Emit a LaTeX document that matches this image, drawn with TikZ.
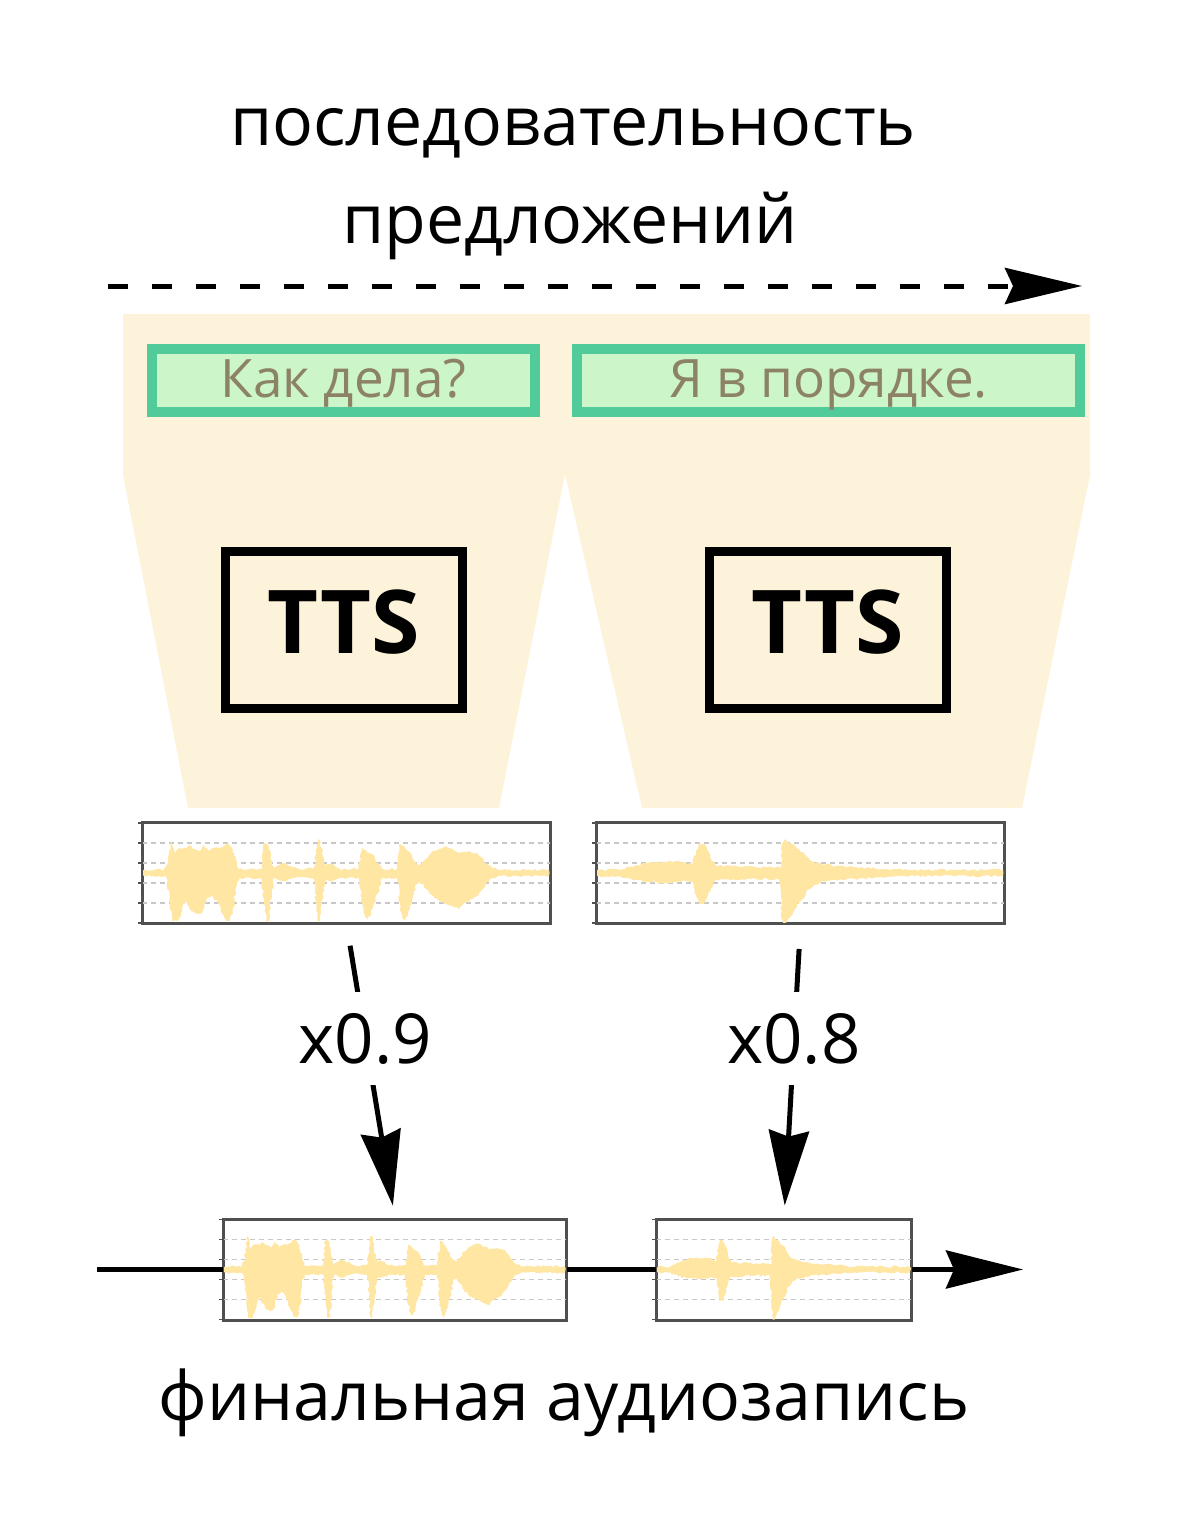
\documentclass[tikz,border=0pt]{standalone}
\usepackage{fontspec}
\setmainfont{Open Sans}
\usetikzlibrary{arrows.meta,calc,decorations.pathmorphing}
\definecolor{cream}{RGB}{252,243,218}
\definecolor{gborder}{RGB}{82,203,155}
\definecolor{gfill}{RGB}{205,245,202}
\definecolor{olive}{RGB}{140,130,100}
\definecolor{wavecol}{RGB}{255,230,163}
\definecolor{gridcol}{RGB}{200,200,200}
\definecolor{panelcol}{RGB}{80,80,80}
\newcommand{\wavone}{%
\fill[wavecol,decorate,decoration={random steps,segment length=2.5pt,amplitude=1.2pt}]
(0,-3) -- (22,-3) -- (25,-8) -- (29,-33) -- (33,-20) -- (37,-25) -- (42,-25) -- (47,-28) -- (52,-24) -- (57,-22) -- (62,-28) -- (67,-22) -- (72,-25) -- (77,-25) -- (82,-27) -- (85,-30) -- (89,-26) -- (92,-20) -- (95,-8) -- (97,-4) -- (119,-4) -- (122,-30) -- (125,-29) -- (127,-26) -- (130,-8) -- (132,-4) -- (137,-8) -- (140,-10) -- (144,-9) -- (147,-7) -- (152,-6) -- (157,-4) -- (172,-5) -- (174,-20) -- (176,-34) -- (178,-33) -- (180,-20) -- (183,-8) -- (187,-9) -- (192,-8) -- (197,-4) -- (217,-4) -- (220,-25) -- (224,-23) -- (227,-20) -- (232,-18) -- (236,-10) -- (240,-4) -- (255,-4) -- (258,-29) -- (262,-27) -- (266,-22) -- (270,-16) -- (274,-10) -- (278,-8) -- (282,-12) -- (287,-18) -- (292,-22) -- (297,-24) -- (302,-26) -- (307,-25) -- (312,-23) -- (317,-20) -- (322,-21) -- (327,-22) -- (333,-20) -- (339,-16) -- (345,-9) -- (350,-5) -- (360,-3) -- (407,-3)
-- (407,3) -- (360,3) -- (350,5) -- (345,9) -- (339,18) -- (333,24) -- (327,28) -- (322,30) -- (317,36) -- (312,34) -- (307,32) -- (302,30) -- (297,28) -- (292,25) -- (287,20) -- (282,14) -- (278,9) -- (274,12) -- (270,28) -- (266,40) -- (263,48) -- (260,45) -- (258,30) -- (255,5) -- (240,5) -- (236,20) -- (232,30) -- (229,40) -- (226,46) -- (223,44) -- (220,30) -- (217,5) -- (197,5) -- (192,7) -- (187,8) -- (183,8) -- (180,30) -- (178,48) -- (176,48) -- (174,30) -- (172,6) -- (157,4) -- (152,5) -- (147,6) -- (144,8) -- (140,8) -- (137,7) -- (132,5) -- (130,20) -- (127,48) -- (124,48) -- (122,30) -- (119,5) -- (97,5) -- (94,15) -- (91,40) -- (88,48) -- (84,47) -- (80,40) -- (76,30) -- (70,22) -- (65,25) -- (60,40) -- (55,41) -- (50,38) -- (44,28) -- (40,35) -- (36,48) -- (30,48) -- (28,30) -- (25,6) -- (22,3) -- (0,3) -- cycle;}
\newcommand{\wavtwo}{%
\fill[wavecol,decorate,decoration={random steps,segment length=2.5pt,amplitude=1.2pt}]
(0,-3) -- (23,-3) -- (30,-5) -- (40,-8) -- (50,-10) -- (60,-11) -- (70,-11) -- (80,-12) -- (90,-10) -- (97,-9) -- (100,-22) -- (103,-30) -- (107,-29) -- (111,-24) -- (115,-14) -- (120,-7) -- (140,-7) -- (160,-6) -- (180,-6) -- (185,-5) -- (186,-30) -- (189,-34) -- (193,-30) -- (198,-28) -- (203,-24) -- (210,-17) -- (218,-11) -- (225,-9) -- (240,-7) -- (260,-6) -- (290,-4) -- (320,-3) -- (407,-3)
-- (407,3) -- (320,3) -- (290,4) -- (260,6) -- (240,7) -- (225,9) -- (218,12) -- (210,20) -- (203,30) -- (198,38) -- (193,45) -- (190,50) -- (187,50) -- (185,30) -- (183,6) -- (160,6) -- (140,7) -- (120,7) -- (115,15) -- (111,25) -- (107,31) -- (103,31) -- (100,22) -- (97,9) -- (90,8) -- (80,9) -- (70,10) -- (60,9) -- (50,9) -- (40,7) -- (30,5) -- (23,3) -- (0,3) -- cycle;}
\newcommand{\panelgrid}[1]{%
  \foreach \g in {-30,-10,10,30}
    \draw[gridline] ($(#1.west)+(0,\g)$) -- ($(#1.east)+(0,\g)$);
  \foreach \g in {-50,-30,-10,10,30,50}
    \draw[tickmark] ($(#1.west)+(-4,\g)$) -- ($(#1.west)+(0,\g)$);
}
\begin{document}
\begin{tikzpicture}[x=1pt,y=-1pt,
  bigtext/.style={font=\fontsize{68}{80}\selectfont, inner sep=0pt},
  sentbox/.style={draw=gborder, fill=gfill, line width=10pt, text=olive,
    font=\fontsize{53}{62}\selectfont, text height=45pt, text depth=12pt,
    inner sep=0pt, minimum height=63pt},
  ttsbox/.style={draw=black, line width=9pt, font=\fontsize{88}{100}\selectfont\bfseries,
    text height=63pt, text depth=17pt, inner sep=0pt,
    minimum width=237pt, minimum height=157pt},
  wavepanel/.style={draw=panelcol, line width=2pt, minimum height=100pt, inner sep=0pt},
  gridline/.style={gridcol, line width=1.2pt, dash pattern=on 5pt off 4pt},
  tickmark/.style={panelcol, line width=1.5pt},
  flow/.style={line width=5pt, -{Stealth[length=77pt,width=38pt,inset=8pt]}},
  scalearrow/.style={line width=5pt, -{Stealth[length=75pt,width=40pt,inset=6pt]}},
  scalelabel/.style={fill=white, font=\fontsize{69}{80}\selectfont, inner xsep=2pt, inner ysep=21pt}
]
\useasboundingbox (0,0) rectangle (1200,1539);
\fill[white] (0,0) rectangle (1200,1539);

% title
\node[bigtext, anchor=base] (t1) at (573,145) {последовательность};
\node[bigtext, anchor=base] (t2) at (570,243) {предложений};

% dashed sequence arrow
\coordinate (ds) at (108,286);
\coordinate (de) at (1082,286);
\draw[line width=5pt, dash pattern=on 20pt off 24pt, -{Stealth[length=77pt,width=36pt,inset=8pt]}] (ds) -- (de);

% cream funnels
\fill[cream] (123,314) -- (1090,314) -- (1090,475) -- (1022,808) -- (642,808) -- (565,474)
  -- (499,808) -- (188,808) -- (123,475) -- cycle;

% sentences
\node[sentbox, minimum width=383pt] (s1) at (343.5,380.5) {Как дела?};
\node[sentbox, minimum width=503pt] (s2) at (828.5,380.5) {Я в порядке.};

% TTS boxes
\node[ttsbox] (tts1) at (344,630) {TTS};
\node[ttsbox] (tts2) at (827.5,630) {TTS};

% waveform panels (top)
\node[wavepanel, minimum width=407pt] (w1) at (346.5,873) {};
\node[wavepanel, minimum width=407pt] (w2) at (800.5,873) {};
% waveform panels (bottom)
\node[wavepanel, minimum width=342pt] (wa) at (395,1269.5) {};
\node[wavepanel, minimum width=254pt] (wb) at (784,1269.5) {};

\panelgrid{w1}
\panelgrid{w2}
\panelgrid{wa}
\panelgrid{wb}

\begin{scope}[shift={(w1.west)}] \wavone \end{scope}
\begin{scope}[shift={(w2.west)}] \wavtwo \end{scope}
\begin{scope}[shift={(wa.west)}, xscale=0.84] \wavone \end{scope}
\begin{scope}[shift={(wb.west)}, xscale=0.624] \wavtwo \end{scope}

% redraw panel borders on top
\foreach \p in {w1,w2,wa,wb}
  \draw[panelcol, line width=2pt] (\p.north west) rectangle (\p.south east);

% scaling arrows
\draw[scalearrow, shorten <=22pt, shorten >=13pt] (w1.south) --
  node[scalelabel, pos=0.39] (l1) {x0.9} (wa.north);
\draw[scalearrow, shorten <=25pt, shorten >=13pt] (w2.south) --
  node[scalelabel, pos=0.39] (l2) {x0.8} (wb.north);

% final timeline
\coordinate (fs) at (97,1269.5);
\coordinate (fe) at (1023,1269.5);
\draw[line width=5pt] (fs) -- (wa.west);
\draw[line width=5pt] (wa.east) -- (wb.west);
\draw[flow] (wb.east) -- (fe);

\node[bigtext, anchor=base] (t3) at (564,1420) {финальная аудиозапись};
\end{tikzpicture}
\end{document}
